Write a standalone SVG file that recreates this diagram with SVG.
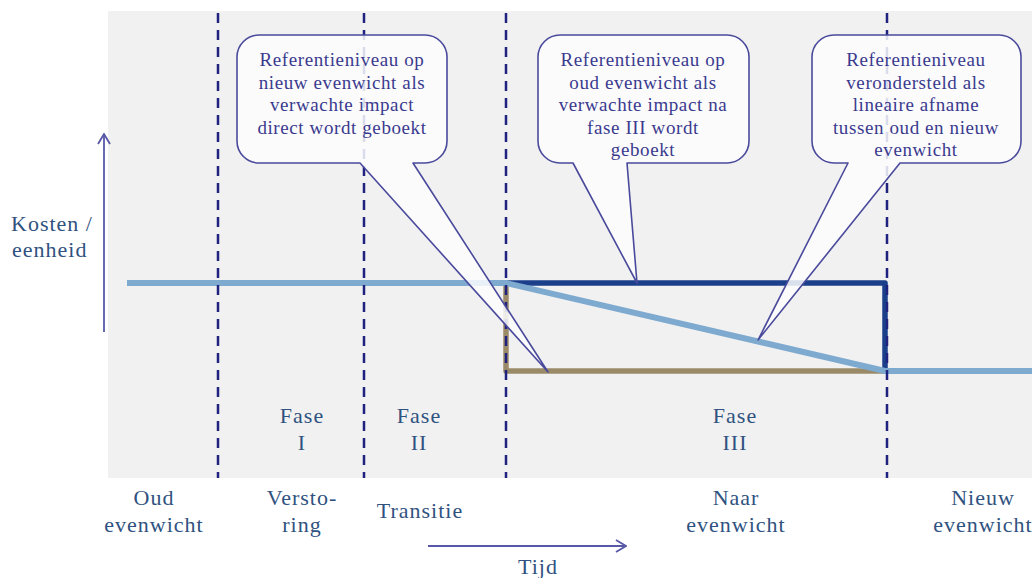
<svg xmlns="http://www.w3.org/2000/svg" width="1032" height="578" viewBox="0 0 1032 578">
<defs>
<style>
.lbl{font-family:"Liberation Serif","Times New Roman",serif;font-size:22px;fill:#2f5280;text-anchor:middle;letter-spacing:1px}
.btx{font-family:"Liberation Serif","Times New Roman",serif;font-size:19px;fill:#3a3a8e;text-anchor:middle;letter-spacing:0.6px}
.dash{stroke:#1f237f;stroke-width:2.5;stroke-dasharray:10 7;fill:none}
.ball{fill:#fdfdfe;fill-opacity:0.85;stroke:#4a4a9c;stroke-width:1.6;stroke-linejoin:round}
.axis{stroke:#5858a8;stroke-width:1.8;fill:none}
</style>
<marker id="open" viewBox="0 0 12 14" refX="11" refY="7" markerWidth="12" markerHeight="14" markerUnits="userSpaceOnUse" orient="auto">
<path d="M1,1 L11,7 L1,13" fill="none" stroke="#5858a8" stroke-width="1.8"/>
</marker>
</defs>
<rect x="0" y="0" width="1032" height="578" fill="#ffffff"/>
<rect x="108" y="11" width="924" height="467" fill="#f1f1f1"/>

<g id="connectors">
<polyline points="506,283 506,371 885,371" fill="none" stroke="#9b8a68" stroke-width="5.5" stroke-linejoin="round"/>
<polyline points="506,283 885,283 885,370" fill="none" stroke="#1b3f8b" stroke-width="5.5" stroke-linejoin="round"/>
<polyline points="127,283 506,283 885,371 1032,371" fill="none" stroke="#7eaad0" stroke-width="6" stroke-linejoin="round"/>
<line class="dash" x1="218" y1="13" x2="218" y2="478"/>
<line class="dash" x1="364" y1="13" x2="364" y2="478"/>
<line class="dash" x1="506" y1="13" x2="506" y2="478"/>
<line class="dash" x1="887" y1="13" x2="887" y2="478"/>
<line class="axis" x1="104" y1="332" x2="104" y2="134" marker-end="url(#open)"/>
<line class="axis" x1="428" y1="546" x2="626" y2="546" marker-end="url(#open)"/>
</g>

<g id="axis-labels">
<text class="lbl" x="11" y="231" style="text-anchor:start">Kosten /</text>
<text class="lbl" x="12" y="257" style="text-anchor:start">eenheid</text>
<text class="lbl" x="518" y="574" style="text-anchor:start">Tijd</text>
</g>

<g id="phases">
<text class="lbl" x="302" y="423">Fase</text>
<text class="lbl" x="302" y="450">I</text>
<text class="lbl" x="419" y="423">Fase</text>
<text class="lbl" x="419" y="450">II</text>
<text class="lbl" x="735" y="423">Fase</text>
<text class="lbl" x="735" y="450">III</text>
</g>

<g id="periods">
<text class="lbl" x="154" y="505">Oud</text>
<text class="lbl" x="154" y="532">evenwicht</text>
<text class="lbl" x="302" y="505">Versto-</text>
<text class="lbl" x="302" y="532">ring</text>
<text class="lbl" x="420" y="518">Transitie</text>
<text class="lbl" x="736" y="505">Naar</text>
<text class="lbl" x="736" y="532">evenwicht</text>
<text class="lbl" x="983" y="505">Nieuw</text>
<text class="lbl" x="983" y="532">evenwicht</text>
</g>

<g id="balloon1">
<path class="ball" d="M259,35 H425 A22,22 0 0 1 447,57 V141 A22,22 0 0 1 425,163 H413 L548,372 L360,163 H259 A22,22 0 0 1 237,141 V57 A22,22 0 0 1 259,35 Z"/>
<text class="btx" x="342" y="66">Referentieniveau op</text>
<text class="btx" x="342" y="88.5">nieuw evenwicht als</text>
<text class="btx" x="342" y="111">verwachte impact</text>
<text class="btx" x="342" y="133.5">direct wordt geboekt</text>
</g>

<g id="balloon2">
<path class="ball" d="M560,35 H727 A22,22 0 0 1 749,57 V141 A22,22 0 0 1 727,163 H627 L637,283 L573,163 H560 A22,22 0 0 1 538,141 V57 A22,22 0 0 1 560,35 Z"/>
<text class="btx" x="643" y="66">Referentieniveau op</text>
<text class="btx" x="643" y="88.5">oud evenwicht als</text>
<text class="btx" x="643" y="111">verwachte impact na</text>
<text class="btx" x="643" y="133.5">fase III wordt</text>
<text class="btx" x="643" y="156">geboekt</text>
</g>

<g id="balloon3">
<path class="ball" d="M834,35 H999 A22,22 0 0 1 1021,57 V141 A22,22 0 0 1 999,163 H900 L758,340 L848,163 H834 A22,22 0 0 1 812,141 V57 A22,22 0 0 1 834,35 Z"/>
<text class="btx" x="916" y="66">Referentieniveau</text>
<text class="btx" x="916" y="88.5">verondersteld als</text>
<text class="btx" x="916" y="111">lineaire afname</text>
<text class="btx" x="916" y="133.5">tussen oud en nieuw</text>
<text class="btx" x="916" y="156">evenwicht</text>
</g>
</svg>
